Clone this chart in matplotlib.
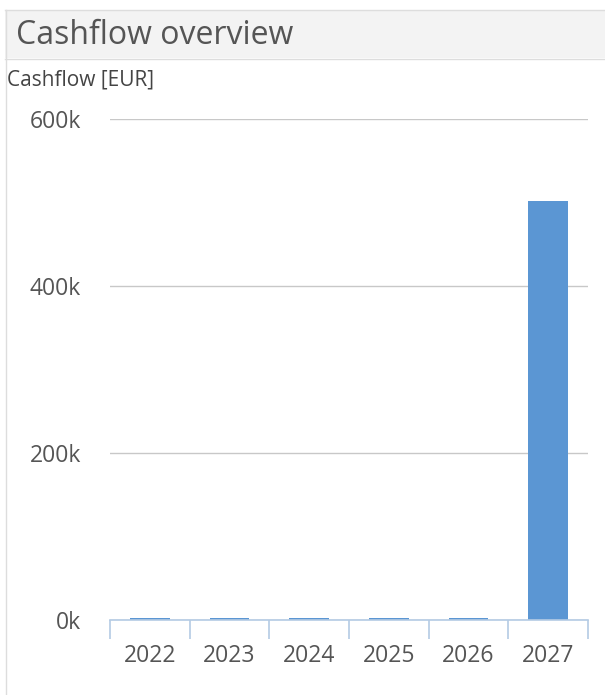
import numpy as np
import matplotlib.pyplot as plt
from matplotlib.patches import Rectangle
from matplotlib.lines import Line2D

years = ["2022", "2023", "2024", "2025", "2026", "2027"]
cashflow = [2500, 2500, 2500, 2500, 2500, 502000]
yticks = [0, 200000, 400000, 600000]
ytick_labels = ["0k", "200k", "400k", "600k"]

plt.rcParams['font.family'] = ['Open Sans', 'DejaVu Sans']

W, H = 605, 695
fig = plt.figure(figsize=(W / 100, H / 100), dpi=100)

# panel frame and title band
fig.patches.append(Rectangle((5 / W, 1 - 58 / H), 1, 48 / H, transform=fig.transFigure,
                             facecolor="#f3f3f3", edgecolor="none", zorder=0))
fig.lines.append(Line2D([5 / W, 1], [1 - 9.5 / H] * 2, transform=fig.transFigure, color="#dddddd", lw=1))
fig.lines.append(Line2D([5 / W, 1], [1 - 58.5 / H] * 2, transform=fig.transFigure, color="#dddddd", lw=1))
fig.lines.append(Line2D([5.5 / W] * 2, [0, 1 - 9.5 / H], transform=fig.transFigure, color="#dddddd", lw=1))
fig.text(16 / W, 1 - 35 / H, "Cashflow overview", fontsize=23, color="#555555", va="center", ha="left")
fig.text(7 / W, 1 - 80 / H, "Cashflow [EUR]", fontsize=15, color="#444444", va="center", ha="left")

ax = fig.add_axes([110 / W, 75 / H, 478 / W, 501 / H])
x = np.arange(len(years))
ax.bar(x, cashflow, width=0.5, color="#5b96d3", zorder=2)
ax.set_xlim(-0.5, len(years) - 0.5)
ax.set_ylim(0, 600000)

ax.set_yticks(yticks)
ax.set_yticklabels(ytick_labels)
ax.grid(axis="y", color="#c8c8c8", lw=1)
ax.set_xticks(x)
ax.set_xticklabels(years)
ax.set_xticks(np.arange(-0.5, len(years)), minor=True)
ax.tick_params(axis="x", which="major", length=0, pad=17, labelsize=16.5, labelcolor="#555555")
ax.tick_params(axis="x", which="minor", length=14, color="#b4cbe4", width=1.2)
ax.tick_params(axis="y", length=0, pad=21, labelsize=16.5, labelcolor="#555555")

for s in ["top", "right", "left"]:
    ax.spines[s].set_visible(False)
ax.spines["bottom"].set_color("#b4cbe4")
ax.spines["bottom"].set_linewidth(1.2)

fig.savefig("out.png", dpi=100)
